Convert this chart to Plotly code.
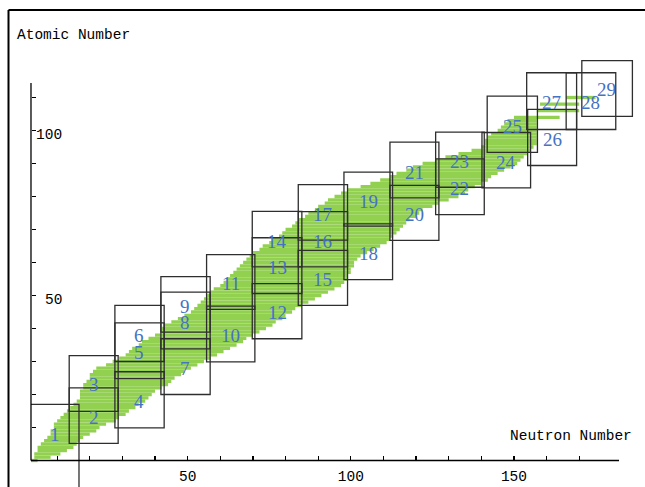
import plotly.graph_objects as go

# ---------------- data ----------------
# band of nuclides: one row per atomic number Z, from N_lo to N_hi
z_rows = list(range(0, 105)) + [106, 108, 110]
n_lo = [2, 3, 3, 4, 4, 5, 6, 7, 8, 8,
        9, 9, 10, 11, 12, 13, 14, 15, 16, 17,
        17, 17, 18, 18, 19, 20, 20, 21, 22, 25,
        27, 29, 31, 32, 33, 35, 36, 38, 40, 42,
        42, 43, 45, 47, 49, 51, 52, 53, 54, 55,
        56, 57, 58, 60, 61, 62, 63, 64, 65, 66,
        67, 68, 69, 70, 72, 73, 75, 76, 78, 79,
        80, 82, 83, 84, 86, 87, 89, 90, 92, 93,
        95, 97, 99, 103, 106, 109, 112, 114, 117, 119,
        122, 126, 129, 133, 137, 140, 141, 141, 142, 143,
        145, 146, 147, 148, 150, 157, 158, 166]
n_hi = [4, 8, 11, 13, 15, 16, 17, 18, 20, 22,
        23, 25, 28, 29, 31, 32, 34, 35, 37, 38,
        39, 40, 42, 44, 45, 46, 48, 49, 51, 53,
        55, 57, 59, 61, 63, 65, 67, 68, 70, 72,
        74, 76, 77, 79, 80, 82, 83, 85, 87, 89,
        91, 93, 95, 97, 98, 99, 99, 100, 100, 101,
        101, 102, 103, 105, 107, 109, 111, 112, 113, 114,
        115, 116, 117, 118, 120, 121, 122, 125, 127, 130,
        133, 135, 136, 138, 140, 142, 143, 145, 147, 149,
        151, 152, 153, 154, 155, 156, 157, 157, 157, 157,
        157, 157, 157, 157, 164, 170, 170, 175]

# boxes: neutron range and proton range of each numbered region
box_n0 = [2.0, 13.7, 13.7, 27.7, 27.7, 27.7, 41.8, 41.8, 41.8, 55.8,
          55.8, 69.8, 69.8, 69.8, 83.9, 83.9, 83.9, 97.9, 97.9, 112.0,
          112.0, 126.0, 126.0, 140.2, 141.8, 154.2, 153.9, 166.0, 170.8]
box_n1 = [16.7, 28.7, 28.7, 42.8, 42.8, 42.8, 56.9, 56.9, 56.9, 70.6,
          70.6, 85.0, 85.0, 85.0, 99.0, 99.0, 99.0, 112.8, 112.8, 127.0,
          127.0, 140.9, 140.9, 155.1, 157.2, 169.2, 169.2, 181.2, 186.3]
box_z0 = [-9.0, 5.2, 14.9, 9.9, 24.8, 30.0, 20.0, 33.8, 38.9, 29.9,
          45.8, 36.9, 50.6, 58.7, 47.0, 58.7, 66.8, 54.8, 71.0, 66.7,
          79.6, 74.5, 82.8, 82.6, 93.4, 89.4, 100.3, 100.3, 104.3]
box_z1 = [17.0, 22.0, 31.8, 26.9, 41.7, 47.0, 36.9, 51.0, 55.7, 46.8,
          62.4, 53.6, 67.5, 75.5, 63.7, 75.4, 83.6, 71.7, 87.4, 83.4,
          96.5, 91.4, 99.5, 99.4, 110.4, 106.4, 117.5, 117.5, 121.2]
box_labels = [str(i) for i in range(1, 30)]
label_n = [9.3, 21.2, 21.2, 35.2, 35.2, 35.2, 49.3, 49.3, 49.3, 63.2,
           63.2, 77.4, 77.4, 77.4, 91.4, 91.4, 91.4, 105.3, 105.3, 119.5,
           119.5, 133.4, 133.4, 147.6, 149.5, 161.7, 161.5, 173.6, 178.5]
label_z = [8.0, 13.0, 23.0, 17.8, 32.6, 37.8, 28.0, 41.8, 46.6, 37.8,
           53.5, 44.7, 58.5, 66.4, 54.7, 66.5, 74.6, 62.7, 78.6, 74.5,
           87.4, 82.4, 90.5, 90.3, 101.3, 97.3, 108.4, 108.4, 112.3]

x_ticks = [10, 20, 30, 40, 50, 60, 70, 80, 90, 100, 110, 120, 130, 140, 150, 160, 170]
x_tick_text = ["", "", "", "", "50", "", "", "", "", "100", "", "", "", "", "150", "", ""]
y_ticks = [10, 20, 30, 40, 50, 60, 70, 80, 90, 100, 110]
y_label_vals = [50, 100]
y_label_text = ["50", "100"]

# ---------------- figure ----------------
W, H = 645, 487
X0PX, XSC = 24.5, 3.263     # pixel of N=0, pixels per neutron
Y0PX, YSC = 460.5, 3.3      # pixel of Z=0, pixels per proton
GREEN = "#92D050"
BLUE = "#4472C4"
BOXC = "#2e2e2e"
MONO = "Liberation Mono, DejaVu Sans Mono, monospace"

fig = go.Figure()
fig.add_trace(go.Bar(
    orientation="h", y=z_rows,
    x=[h - l for l, h in zip(n_lo, n_hi)], base=n_lo,
    width=1.0, marker=dict(color=GREEN, line=dict(width=0)),
    hoverinfo="skip", showlegend=False))

shapes = []
for i in range(len(box_n0)):
    if i == 0:
        # first region is cut by the axes: only its top and right edges show
        shapes.append(dict(type="path", xref="x", yref="y",
                           path=f"M {box_n0[i]},{box_z1[i]} L {box_n1[i]},{box_z1[i]} L {box_n1[i]},{box_z0[i]}",
                           line=dict(color=BOXC, width=1.3)))
    else:
        shapes.append(dict(type="rect", xref="x", yref="y",
                           x0=box_n0[i], x1=box_n1[i], y0=box_z0[i], y1=box_z1[i],
                           line=dict(color=BOXC, width=1.3), fillcolor="rgba(0,0,0,0)"))

# axis lines
AX_N = 1.99
shapes.append(dict(type="line", xref="x", yref="y", x0=AX_N, x1=182.2, y0=0, y1=0,
                   line=dict(color="black", width=1.3)))
shapes.append(dict(type="line", xref="x", yref="y", x0=AX_N, x1=AX_N, y0=0, y1=114.4,
                   line=dict(color="black", width=1.3)))

# window frame (left and top edges), placed in data units of the full-page plot area
fx = (8.5 - X0PX) / XSC
fy = (Y0PX - 10) / YSC
shapes.append(dict(type="line", xref="x", yref="y", x0=fx, x1=fx, y0=(Y0PX - H - 5) / YSC, y1=fy,
                   line=dict(color="black", width=2), layer="above"))
shapes.append(dict(type="line", xref="x", yref="y", x0=fx, x1=(W + 5 - X0PX) / XSC, y0=fy, y1=fy,
                   line=dict(color="black", width=2), layer="above"))

annotations = []
for t, n, z in zip(box_labels, label_n, label_z):
    annotations.append(dict(x=n, y=z, xref="x", yref="y", text=t, showarrow=False,
                            font=dict(family="Liberation Serif, DejaVu Serif, serif",
                                      size=19, color=BLUE)))
# y tick labels sit right of the axis, right-aligned, slightly below their ticks
for v, t in zip(y_label_vals, y_label_text):
    annotations.append(dict(x=(64 - X0PX) / XSC, y=v, xref="x", yref="y", text=t, showarrow=False,
                            xanchor="right", yanchor="middle", yshift=-4,
                            font=dict(family=MONO, size=14.5, color="black")))
annotations.append(dict(x=15 / W, y=1 - 35 / H, xref="paper", yref="paper", text="Atomic Number",
                        showarrow=False, xanchor="left", yanchor="middle",
                        font=dict(family=MONO, size=14.5, color="black")))
annotations.append(dict(x=508 / W, y=1 - 436 / H, xref="paper", yref="paper", text="Neutron Number",
                        showarrow=False, xanchor="left", yanchor="middle",
                        font=dict(family=MONO, size=14.5, color="black")))

fig.update_layout(
    width=W, height=H, margin=dict(l=0, r=0, t=0, b=0),
    paper_bgcolor="white", plot_bgcolor="white",
    showlegend=False, shapes=shapes, annotations=annotations,
    xaxis=dict(range=[-X0PX / XSC, (W - X0PX) / XSC], anchor="free", position=(H - Y0PX) / H,
               showgrid=False, zeroline=False, showline=False,
               tickmode="array", tickvals=x_ticks, ticktext=x_tick_text,
               ticks="inside", ticklen=5, tickwidth=1.2, tickcolor="black",
               ticklabelstandoff=5,
               tickfont=dict(family=MONO, size=14.5, color="black")),
    yaxis=dict(range=[(Y0PX - H) / YSC, Y0PX / YSC], anchor="free", position=31 / W, side="right",
               showgrid=False, zeroline=False, showline=False,
               tickmode="array", tickvals=y_ticks, showticklabels=False,
               ticks="outside", ticklen=4, tickwidth=1.2, tickcolor="black"),
)

fig.write_html("out.html", config={"displayModeBar": False, "staticPlot": True},
               post_script="document.body.style.margin='0';document.body.style.overflow='hidden';")
